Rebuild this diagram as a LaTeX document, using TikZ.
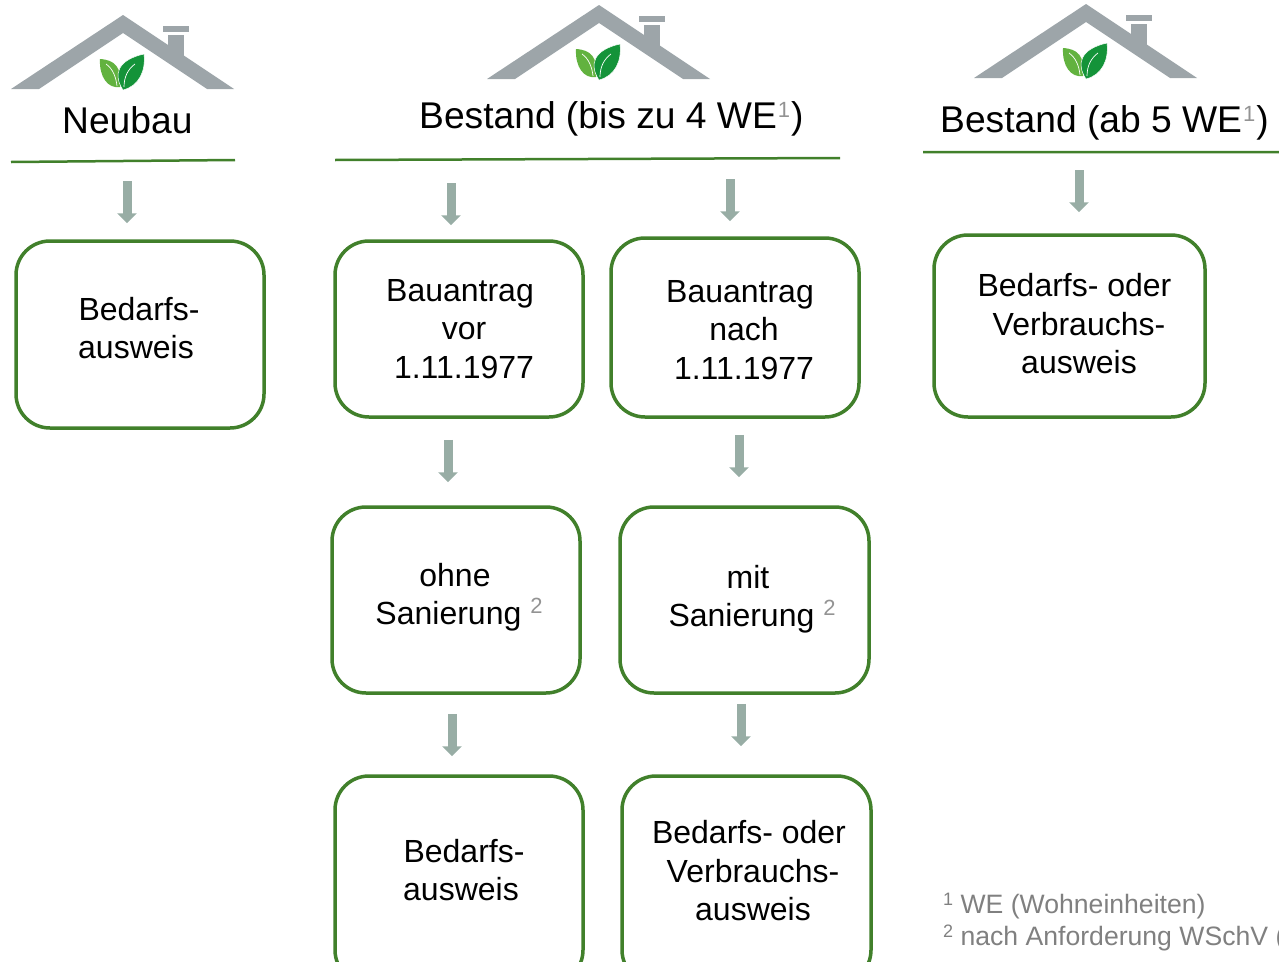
\documentclass[tikz,border=0pt]{standalone}
\usepackage{fontspec}
\usepackage{xcolor}
\setmainfont{Liberation Sans}
\usetikzlibrary{arrows.meta}
\definecolor{rulegreen}{HTML}{41802B}
\definecolor{arrowgray}{HTML}{98ADA5}
\definecolor{roofgray}{HTML}{9DA5A9}
\definecolor{leaflight}{HTML}{62B23F}
\definecolor{leafdark}{HTML}{149339}
\definecolor{notegray}{HTML}{808080}
\newcommand{\supgray}[1]{\raisebox{11pt}{\fontsize{22}{22}\selectfont\textcolor{notegray!85}{#1}}}
\newcommand{\nudge}[1]{\hspace*{#1}}
\tikzset{
  greenbox/.style={draw=rulegreen,line width=3.5pt,rounded corners=34pt,inner sep=0pt},
  boxtext/.style={align=center,font=\fontsize{32}{38.5}\selectfont,inner sep=0pt},
  headtext/.style={anchor=base west,font=\fontsize{37.2}{40}\selectfont,inner sep=0pt},
  notetext/.style={anchor=base west,font=\fontsize{26.6}{30}\selectfont,text=notegray,inner sep=0pt},
  headrule/.style={draw=rulegreen,line width=2.5pt},
  flowarrow/.style={draw=arrowgray,line width=9pt,-{Triangle[width=19pt,length=10pt]}},
  pics/roof/.style={code={
    \fill[roofgray] (0,0) -- (111,74) -- (84,74) -- (0,18) -- (-84,74) -- (-112,74) -- cycle;
    \fill[roofgray] (45,20) rectangle (61,44);
    \fill[roofgray] (40,11) rectangle (66,17);
    \fill[leaflight] (-23,44) .. controls (-8,45) and (-1,52) .. (-3,72)
       .. controls (-15,74) and (-24,62) .. cycle;
    \draw[white,line width=.7pt] (-17,49) .. controls (-10,54) and (-7,62) .. (-6,71);
    \fill[leafdark,draw=white,line width=.5pt] (0,75) .. controls (-10,60) and (-6,45) .. (21,39)
       .. controls (23,56) and (16,71) .. cycle;
    \draw[white,line width=.7pt] (1,72) .. controls (1,62) and (5,54) .. (12,49);
  }}
}
\begin{document}
\begin{tikzpicture}[x=1pt,y=-1pt]
  \clip (0,0) rectangle (1279,961);
  \useasboundingbox (0,0) rectangle (1279,961);

  \pic at (123,15) {roof};
  \pic at (599,5) {roof};
  \pic at (1086,4) {roof};

  \node (neubau) at (62,133) [headtext] {Neubau};
  \node (bestandA) at (419,128) [headtext] {Bestand (bis zu 4 WE\hspace{1pt}\supgray{1}\hspace{1pt})};
  \node (bestandB) at (940,132) [headtext] {Bestand (ab 5 WE\hspace{1pt}\supgray{1}\hspace{1pt})};

  \coordinate (ruleNeuL) at (11,162);
  \coordinate (ruleNeuR) at (235,160);
  \coordinate (ruleBisL) at (335,160);
  \coordinate (ruleBisR) at (840,158);
  \coordinate (ruleAbL) at (923,152);
  \coordinate (ruleAbR) at (1279,152);
  \draw[headrule] (ruleNeuL) -- (ruleNeuR) (ruleBisL) -- (ruleBisR) (ruleAbL) -- (ruleAbR);

  \node (neuBox) at (140,334.5) [greenbox,minimum width=248pt,minimum height=187pt] {};
  \node (vorBox) at (459,329) [greenbox,minimum width=248pt,minimum height=176pt] {};
  \node (nachBox) at (735,327.5) [greenbox,minimum width=248pt,minimum height=179pt] {};
  \node (abBox) at (1069.5,326) [greenbox,minimum width=271pt,minimum height=182pt] {};
  \node (ohneBox) at (456,600) [greenbox,minimum width=248pt,minimum height=186pt] {};
  \node (mitBox) at (744.5,600) [greenbox,minimum width=249pt,minimum height=186pt] {};
  \node (bedBox) at (459,880) [greenbox,minimum width=248pt,minimum height=208pt] {};
  \node (verBox) at (746.5,880) [greenbox,minimum width=249pt,minimum height=208pt] {};

  \node (neuText) at (136,328) [boxtext] {\nudge{6pt}Bedarfs-\\ausweis};
  \node (vorText) at (464,329) [boxtext] {Bauantrag\nudge{8pt}\\vor\\1.11.1977};
  \node (nachText) at (744,330) [boxtext] {Bauantrag\nudge{8pt}\\nach\\1.11.1977};
  \node (abText) at (1079,324) [boxtext] {Bedarfs- oder\nudge{9pt}\\Verbrauchs-\\ausweis};
  \node (ohneText) at (459,597) [boxtext] {ohne\nudge{8pt}\\Sanierung \supgray{2}};
  \node (mitText) at (752,599) [boxtext] {mit\nudge{8pt}\\Sanierung \supgray{2}};
  \node (bedText) at (461,870) [boxtext] {\nudge{6pt}Bedarfs-\\ausweis};
  \node (verText) at (753,871) [boxtext] {Bedarfs- oder\nudge{8pt}\\Verbrauchs-\\ausweis};

  \draw[flowarrow,shorten <=21pt,shorten >=16pt] (127,0 |- ruleNeuR) -- (127,0 |- neuBox.north);
  \draw[flowarrow,shorten <=23pt,shorten >=14pt] (451,0 |- ruleBisL) -- (451,0 |- vorBox.north);
  \draw[flowarrow,shorten <=21pt,shorten >=15pt] (730,0 |- ruleBisR) -- (730,0 |- nachBox.north);
  \draw[flowarrow,shorten <=18pt,shorten >=21pt] (1079,0 |- ruleAbL) -- (1079,0 |- abBox.north);
  \draw[flowarrow,shorten <=21pt,shorten >=23pt] (448,0 |- vorBox.south) -- (448,0 |- ohneBox.north);
  \draw[flowarrow,shorten <=16pt,shorten >=28pt] (739,0 |- nachBox.south) -- (739,0 |- mitBox.north);
  \draw[flowarrow,shorten <=19pt,shorten >=18pt] (452,0 |- ohneBox.south) -- (452,0 |- bedBox.north);
  \draw[flowarrow,shorten <=9pt,shorten >=28pt] (741,0 |- mitBox.south) -- (741,0 |- verBox.north);

  \node (noteA) at (943,913) [notetext] {\raisebox{8pt}{\fontsize{18}{18}\selectfont 1} WE (Wohneinheiten)};
  \node (noteB) at (943,945) [notetext] {\raisebox{8pt}{\fontsize{18}{18}\selectfont 2} nach Anforderung WSchV (};
\end{tikzpicture}
\end{document}
